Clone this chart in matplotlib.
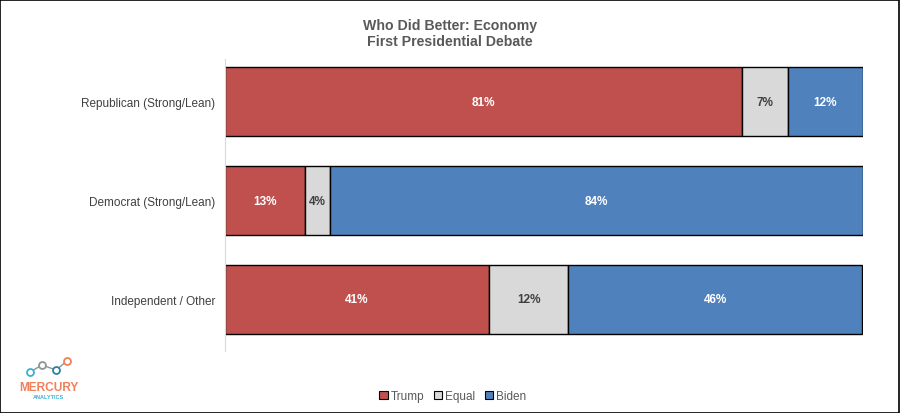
import matplotlib
matplotlib.use("Agg")
import matplotlib.pyplot as plt
from matplotlib.patches import Rectangle
from matplotlib.lines import Line2D

plt.rcParams['font.family'] = ['Liberation Sans', 'DejaVu Sans']

groups = ["Republican (Strong/Lean)", "Democrat (Strong/Lean)", "Independent / Other"]
trump = [81.0, 12.6, 41.4]
equal = [7.2, 3.8, 12.4]
biden = [11.8, 83.6, 46.1]
series_names = ["Trump", "Equal", "Biden"]
colors = ["#C0504D", "#D9D9D9", "#4F81BD"]
text_colors = ["white", "#404040", "white"]

fig = plt.figure(figsize=(9, 4.14), dpi=100)
ax = fig.add_axes([0.25, 0.15, 0.709, 0.705])

y = list(range(len(groups)))
left = [0.0] * len(groups)
for vals, name, c, tc in zip([trump, equal, biden], series_names, colors, text_colors):
    ax.barh(y, vals, left=left, height=0.7, color=c, edgecolor="black",
            linewidth=1.0, label=name)
    for i, v in enumerate(vals):
        ax.text(left[i] + v / 2, i, "%.0f%%" % v, ha="center", va="center",
                color=tc, fontsize=8.5, fontweight="bold")
    left = [l + v for l, v in zip(left, vals)]

ax.set_xlim(0, 100)
ax.set_ylim(2.52, -0.43)
ax.set_yticks(y)
ax.set_yticklabels(groups, fontsize=8.5, color="#404040")
ax.tick_params(axis="y", length=0, pad=7)
ax.set_xticks([])
for s in ["top", "right", "bottom"]:
    ax.spines[s].set_visible(False)
ax.spines["left"].set_color("#D9D9D9")

fig.text(0.5, 0.955, "Who Did Better: Economy\nFirst Presidential Debate",
         ha="center", va="top", fontsize=10.2, fontweight="bold", color="#595959",
         linespacing=1.2)

handles = [Rectangle((0, 0), 1, 1, facecolor=c, edgecolor="black", linewidth=0.8)
           for c in colors]
fig.legend(handles, series_names, loc="center", bbox_to_anchor=(0.503, 0.04),
           ncol=3, frameon=False, fontsize=8.5, handlelength=0.7, handleheight=0.7,
           handletextpad=0.25, columnspacing=0.8, labelcolor="#595959")

# logo
W, H = 900, 414
pts = [(30, 373), (42, 366), (56, 371), (67, 362)]
pcols = ["#3BB0D0", "#8C9696", "#2C7FA8", "#F07F5A"]
xs = [p[0] / W for p in pts]
ys = [1 - p[1] / H for p in pts]
fig.add_artist(Line2D(xs, ys, color="#8C9696", linewidth=1.0, transform=fig.transFigure))
for xx, yy, c in zip(xs, ys, pcols):
    fig.add_artist(Line2D([xx], [yy], marker="o", markersize=5, markerfacecolor="white",
                          markeredgecolor=c, markeredgewidth=1.3, transform=fig.transFigure))
fig.text(48.5 / W, 1 - 388 / H, "MERCURY", ha="center", va="center", fontsize=8.6,
         fontweight="bold", color="#F07F5A")
fig.text(48.5 / W, 1 - 398 / H, "ANALYTICS", ha="center", va="center", fontsize=4,
         fontweight="bold", color="#3BB0D0")

fig.add_artist(Rectangle((0.0005, 0.001), 0.998, 0.997, transform=fig.transFigure,
                         fill=False, edgecolor="black", linewidth=1.2))

fig.savefig("out.png", dpi=100)
